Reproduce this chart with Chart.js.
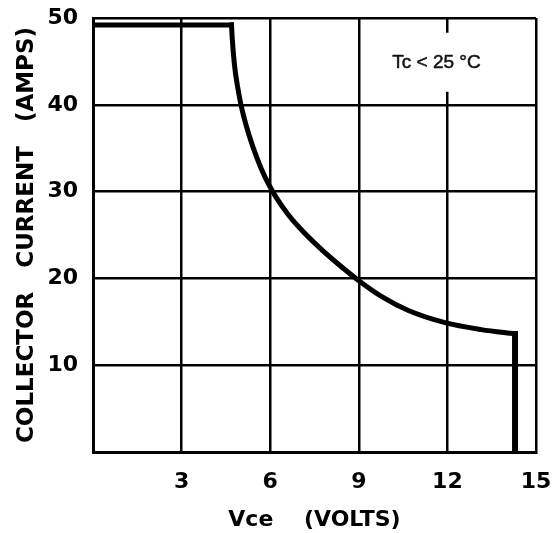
<!DOCTYPE html>
<html>
<head>
<meta charset="utf-8">
<script src="https://cdn.jsdelivr.net/npm/chart.js@4"></script>
<style>
  html, body { margin: 0; padding: 0; background: #fff; }
  #wrap { width: 552px; height: 533px; }
</style>
</head>
<body>
<div id="wrap"><canvas id="c" width="552" height="533"></canvas></div>
<script>
// Safe operating curve: collector current vs Vce
const vce = [0, 4.69, 4.71, 4.79, 4.90, 5.01, 5.18, 5.40, 5.69, 5.97, 6.19, 6.60, 7.00, 7.65, 8.32, 8.98, 9.78, 10.68, 11.92, 13.15, 14.29, 14.29];
const ic  = [49.2, 49.2, 47.9, 44.6, 42.0, 40.0, 37.7, 35.3, 32.7, 30.7, 29.4, 27.4, 25.8, 23.6, 21.6, 19.8, 17.9, 16.3, 14.9, 14.1, 13.6, 0];
const xTicks = [0, 3, 6, 9, 12, 15];
const yTicks = [0, 10, 20, 30, 40, 50];
const noteText = 'Tc < 25 °C';

const FONT = 'DejaVu Sans';
const pts = vce.map((v, i) => ({x: v, y: ic[i]}));
const last = pts.length - 1;

const notePlugin = {
  id: 'note',
  afterDatasetsDraw(chart) {
    const {ctx, scales: {x, y}} = chart;
    ctx.save();
    const gx = x.getPixelForValue(12);
    ctx.fillStyle = '#fff';
    ctx.fillRect(gx - 3, y.getPixelForValue(48.3), 6, y.getPixelForValue(41.5) - y.getPixelForValue(48.3));
    ctx.fillStyle = '#111';
    ctx.strokeStyle = '#111';
    ctx.lineWidth = 0.5;
    ctx.font = '19px "Liberation Sans", Arial, sans-serif';
    ctx.textAlign = 'center';
    ctx.textBaseline = 'middle';
    const tx = x.getPixelForValue(11.63), ty = y.getPixelForValue(44.9);
    ctx.fillText(noteText, tx, ty);
    ctx.strokeText(noteText, tx, ty);
    ctx.restore();
  }
};

const lineStyle = {
  showLine: true, borderColor: '#000', borderWidth: 5,
  borderJoinStyle: 'miter', borderCapStyle: 'square', pointRadius: 0
};

new Chart(document.getElementById('c'), {
  type: 'scatter',
  data: {
    datasets: [
      Object.assign({ data: pts.slice(0, 2), tension: 0 }, lineStyle),
      Object.assign({ data: pts.slice(1, last), cubicInterpolationMode: 'monotone' }, lineStyle),
      Object.assign({ data: pts.slice(last - 1), tension: 0 }, lineStyle, { borderWidth: 6 })
    ]
  },
  options: {
    responsive: false,
    animation: false,
    layout: { padding: { top: 18, right: 16, left: 0, bottom: 0 } },
    plugins: { legend: { display: false }, tooltip: { enabled: false } },
    scales: {
      x: {
        type: 'linear', min: 0, max: 15,
        afterBuildTicks: s => { s.ticks = xTicks.map(v => ({value: v})); },
        afterFit: s => { s.height = 81; s.paddingLeft = 0; s.paddingRight = 0; },
        grid: { color: '#000', lineWidth: 2.5, drawTicks: false },
        border: { color: '#000', width: 3 },
        ticks: {
          color: '#000', padding: 17, maxRotation: 0,
          font: { family: FONT, size: 22, weight: 'bold' },
          callback: v => v === 0 ? '' : String(v)
        },
        title: {
          display: true, text: 'Vce    (VOLTS)', color: '#000',
          font: { family: FONT, size: 22, weight: 'bold' },
          padding: { top: 8, bottom: 0 }
        }
      },
      y: {
        type: 'linear', min: 0, max: 50,
        afterBuildTicks: s => { s.ticks = yTicks.map(v => ({value: v})); },
        afterFit: s => { s.width = 93; s.paddingTop = 0; s.paddingBottom = 0; },
        grid: { color: '#000', lineWidth: 2.5, drawTicks: false },
        border: { color: '#000', width: 3 },
        ticks: {
          color: '#000', padding: 15,
          font: { family: FONT, size: 22, weight: 'bold' },
          callback: v => v === 0 ? '' : String(v)
        },
        title: {
          display: true, text: 'COLLECTOR   CURRENT   (AMPS)', color: '#000',
          font: { family: FONT, size: 23, weight: 'bold' },
          padding: { top: 13, bottom: 0 }
        }
      }
    }
  },
  plugins: [notePlugin]
});
</script>
</body>
</html>
